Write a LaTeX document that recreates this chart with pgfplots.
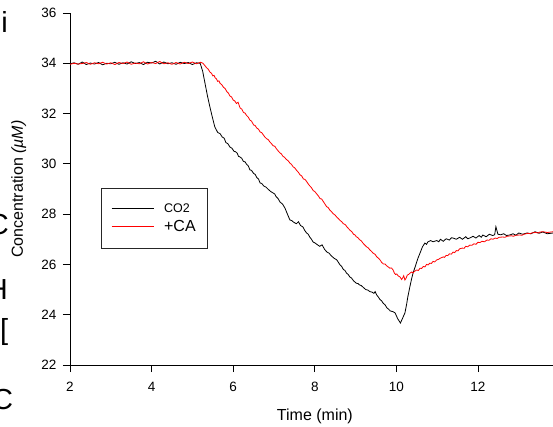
\documentclass[border=0pt]{standalone}
\usepackage{fontspec}
\setmainfont{Liberation Sans}
\usepackage{pgfplots}
\pgfplotsset{compat=1.18}
\usetikzlibrary{calc}

\begin{document}
\begin{tikzpicture}
\begin{axis}[
    name=ax,
    scale only axis,
    width=483pt, height=352pt,
    xmin=2, xmax=13.84,
    ymin=22, ymax=36,
    xtick={2,4,...,12},
    ytick={22,24,...,36},
    axis x line=bottom,
    axis y line=left,
    axis line style={-, line width=0.8pt},
    tick style={line width=0.8pt, black},
    tick align=outside,
    major tick length=7pt,
    /pgf/number format/assume math mode=true,
    ticklabel style={font=\fontsize{13.5}{15}\selectfont},
    xticklabel style={yshift=-7pt},
    yticklabel style={xshift=-3pt},
    xlabel={Time (min)},
    ylabel={Concentration \textit{(µM)}},
    xlabel style={font=\fontsize{16}{18}\selectfont, at={(axis description cs:0.507,-0.146)}, anchor=center},
    ylabel style={font=\fontsize{16}{18}\selectfont, at={(axis description cs:-0.106,0.5)}, anchor=center},
    legend style={at={(axis cs:2.76,29.04)}, anchor=north west, draw=black!85, line width=0.6pt,
        inner xsep=10pt, inner ysep=13pt, row sep=3pt, cells={anchor=west},
        /tikz/every odd column/.append style={column sep=8pt}},
    legend cell align=left,
    legend image code/.code={\draw[#1, line width=0.8pt] (0pt,0pt) -- (42pt,0pt);},
]
\addplot[black, line width=0.8pt] coordinates {
(2.0,33.98) (2.1,34.02) (2.2,33.96) (2.3,34.05) (2.4,33.95) (2.5,34.01) (2.6,33.97) (2.7,34.03)
(2.8,33.94) (2.9,34.00) (3.0,33.98) (3.1,34.04) (3.2,33.96) (3.3,34.02) (3.4,33.97) (3.5,34.06)
(3.6,33.99) (3.7,34.03) (3.8,33.95) (3.9,34.04) (4.0,34.01) (4.1,34.08) (4.2,33.97) (4.3,34.05)
(4.4,33.98) (4.5,34.02) (4.6,33.96) (4.7,34.04) (4.8,33.99) (4.9,34.03) (5.0,33.95) (5.1,34.02)
(5.19,34.0) (5.25,33.7) (5.31,33.2) (5.37,32.7) (5.43,32.26) (5.49,31.85) (5.55,31.47) (5.62,31.25)
(5.68,31.2) (5.73,31.07) (5.78,31.02) (5.82,30.85) (5.87,30.8) (5.92,30.67) (5.97,30.62) (6.02,30.5)
(6.06,30.48) (6.10,30.42) (6.13,30.3) (6.17,30.27) (6.21,30.22) (6.25,30.1) (6.29,30.08) (6.33,29.98)
(6.37,29.92) (6.41,29.76) (6.45,29.74) (6.5,29.62) (6.54,29.58) (6.58,29.45) (6.62,29.4) (6.66,29.24)
(6.7,29.22) (6.75,29.12) (6.8,29.08) (6.85,29.0) (6.92,28.9) (6.98,28.84) (7.02,28.8) (7.05,28.7)
(7.1,28.62) (7.15,28.48) (7.21,28.4) (7.27,28.24) (7.33,28.0) (7.39,27.77) (7.44,27.74) (7.48,27.68)
(7.55,27.62) (7.6,27.7) (7.65,27.55) (7.71,27.49) (7.75,27.36) (7.8,27.25) (7.84,27.2) (7.88,27.08)
(7.92,27.0) (7.96,26.89) (8.0,26.86) (8.05,26.8) (8.12,26.72) (8.18,26.78) (8.24,26.6) (8.30,26.49)
(8.35,26.45) (8.4,26.35) (8.47,26.25) (8.54,26.18) (8.58,26.08) (8.62,25.98) (8.66,25.92) (8.7,25.8)
(8.74,25.76) (8.78,25.65) (8.82,25.6) (8.86,25.50) (8.9,25.46) (8.95,25.35) (9.02,25.25) (9.06,25.24)
(9.10,25.18) (9.14,25.16) (9.18,25.10) (9.25,25.0) (9.3,24.98) (9.35,24.92) (9.4,24.9) (9.45,24.85)
(9.48,24.92) (9.52,24.78) (9.56,24.7) (9.6,24.6) (9.64,24.55) (9.68,24.45) (9.72,24.4) (9.77,24.27)
(9.81,24.22) (9.85,24.15) (9.92,24.12) (9.97,24.07) (10.03,23.85) (10.10,23.67) (10.15,23.85) (10.21,24.07)
(10.25,24.4) (10.28,24.70) (10.33,25.1) (10.37,25.4) (10.41,25.66) (10.47,25.95) (10.53,26.25) (10.58,26.45)
(10.64,26.7) (10.70,26.85) (10.74,26.8) (10.77,26.89) (10.84,26.95) (10.9,26.9) (10.99,26.95) (11.04,26.9)
(11.08,27.0) (11.15,26.92) (11.22,27.02) (11.3,26.97) (11.35,27.06) (11.39,27.05) (11.47,27.0) (11.55,27.08)
(11.62,27.0) (11.7,27.1) (11.75,27.02) (11.80,27.05) (11.88,27.12) (11.95,27.05) (12.03,27.15) (12.08,27.08)
(12.12,27.17) (12.2,27.1) (12.28,27.2) (12.36,27.15) (12.41,27.18) (12.44,27.5) (12.49,27.2) (12.56,27.18)
(12.63,27.22) (12.7,27.15) (12.78,27.17) (12.86,27.22) (12.93,27.16) (13.0,27.25) (13.1,27.2) (13.2,27.25)
(13.3,27.22) (13.4,27.3) (13.5,27.24) (13.59,27.29) (13.7,27.22) (13.84,27.25)
};
\addlegendentry{\fontsize{12.5}{14}\selectfont CO2}
\addplot[red, line width=0.8pt] coordinates {
(2.0,33.96) (2.1,34.0) (2.2,33.97) (2.3,33.99) (2.4,34.03) (2.5,33.96) (2.6,34.02) (2.7,33.98)
(2.8,34.04) (2.9,33.97) (3.0,34.02) (3.1,33.95) (3.2,34.03) (3.3,33.99) (3.4,34.05) (3.5,33.96)
(3.6,34.01) (3.7,33.98) (3.8,34.06) (3.9,33.97) (4.0,34.03) (4.1,33.99) (4.2,34.07) (4.3,33.98)
(4.4,34.02) (4.5,33.96) (4.6,34.03) (4.7,33.97) (4.8,34.04) (4.9,33.99) (5.0,34.05) (5.1,33.98)
(5.2,34.04) (5.26,34.0) (5.31,33.9) (5.35,33.82) (5.39,33.76) (5.43,33.65) (5.47,33.6) (5.5,33.5)
(5.53,33.52) (5.56,33.42) (5.59,33.38) (5.62,33.28) (5.65,33.3) (5.68,33.2) (5.72,33.15) (5.76,33.05)
(5.8,33.0) (5.85,32.86) (5.88,32.82) (5.92,32.7) (5.96,32.66) (6.0,32.54) (6.04,32.5) (6.08,32.4)
(6.12,32.45) (6.17,32.22) (6.21,32.18) (6.25,32.05) (6.29,32.02) (6.33,31.92) (6.37,31.86) (6.41,31.74)
(6.45,31.7) (6.5,31.55) (6.54,31.52) (6.58,31.42) (6.62,31.38) (6.66,31.27) (6.7,31.24) (6.74,31.15)
(6.78,31.06) (6.82,31.0) (6.86,30.96) (6.90,30.87) (6.94,30.8) (6.98,30.72) (7.02,30.7) (7.06,30.6)
(7.1,30.52) (7.15,30.43) (7.18,30.4) (7.22,30.3) (7.26,30.26) (7.3,30.18) (7.35,30.12) (7.39,30.03)
(7.43,29.98) (7.47,29.88) (7.51,29.84) (7.55,29.75) (7.6,29.66) (7.64,29.56) (7.68,29.52) (7.72,29.4)
(7.76,29.38) (7.8,29.3) (7.84,29.2) (7.88,29.12) (7.92,29.05) (7.96,28.94) (8.0,28.9) (8.05,28.8)
(8.09,28.72) (8.13,28.62) (8.17,28.6) (8.21,28.5) (8.25,28.4) (8.29,28.3) (8.33,28.26) (8.37,28.16)
(8.41,28.1) (8.45,28.02) (8.5,27.96) (8.54,27.88) (8.58,27.82) (8.62,27.75) (8.66,27.7) (8.70,27.62)
(8.75,27.58) (8.79,27.49) (8.83,27.42) (8.87,27.35) (8.91,27.3) (8.95,27.2) (8.98,27.18) (9.02,27.1)
(9.06,27.06) (9.1,26.98) (9.14,26.94) (9.18,26.85) (9.22,26.78) (9.27,26.7) (9.31,26.66) (9.35,26.58)
(9.39,26.52) (9.43,26.45) (9.48,26.4) (9.52,26.3) (9.56,26.25) (9.60,26.18) (9.64,26.08) (9.68,26.02)
(9.72,26.02) (9.76,25.95) (9.8,25.9) (9.84,25.85) (9.88,25.86) (9.92,25.78) (9.95,25.66) (9.98,25.6)
(10.01,25.62) (10.04,25.55) (10.09,25.50) (10.13,25.4) (10.16,25.48) (10.18,25.55) (10.21,25.38) (10.24,25.46)
(10.27,25.58) (10.3,25.6) (10.34,25.66) (10.38,25.70) (10.41,25.66) (10.44,25.72) (10.50,25.78) (10.54,25.76)
(10.58,25.85) (10.62,25.84) (10.66,25.92) (10.7,25.9) (10.74,26.0) (10.78,25.98) (10.82,26.05) (10.86,26.04)
(10.9,26.12) (10.94,26.1) (10.99,26.18) (11.03,26.2) (11.08,26.25) (11.15,26.3) (11.18,26.28) (11.22,26.36)
(11.26,26.35) (11.3,26.42) (11.35,26.41) (11.39,26.49) (11.43,26.47) (11.47,26.55) (11.51,26.54) (11.55,26.62)
(11.62,26.65) (11.66,26.64) (11.7,26.72) (11.75,26.7) (11.80,26.77) (11.85,26.76) (11.9,26.82) (11.95,26.8)
(12.0,26.88) (12.05,26.87) (12.1,26.92) (12.16,26.9) (12.22,26.97) (12.27,26.96) (12.32,27.02) (12.37,27.0)
(12.42,27.05) (12.47,27.03) (12.52,27.08) (12.61,27.09) (12.66,27.08) (12.72,27.12) (12.82,27.14) (12.87,27.12)
(12.93,27.16) (13.03,27.17) (13.08,27.16) (13.13,27.2) (13.23,27.24) (13.28,27.22) (13.33,27.26) (13.42,27.27)
(13.47,27.25) (13.52,27.29) (13.6,27.3) (13.7,27.27) (13.84,27.3)
};
\addlegendentry{\fontsize{16}{18}\selectfont +CA}
\end{axis}
% cropped letters of a neighbouring panel at the left edge
\begin{scope}[shift={($(ax.south west)+(-70pt,-62pt)$)}, every node/.style={font=\fontsize{29}{30}\selectfont, inner sep=0pt}]
\node[anchor=base east] at (8pt,427pt-33pt) {i};
\node[anchor=base east] at (9pt,427pt-235pt) {C};
\node[anchor=base east] at (8pt,427pt-300pt) {H};
\node[anchor=base west] at (0pt,427pt-340pt) {[};
\node[anchor=base west] at (-8pt,427pt-410pt) {C};
\end{scope}
\pgfresetboundingbox
\path[use as bounding box] ($(ax.south west)+(-70pt,-62pt)$) rectangle ($(ax.north east)+(0pt,13pt)$);
\end{tikzpicture}
\end{document}
